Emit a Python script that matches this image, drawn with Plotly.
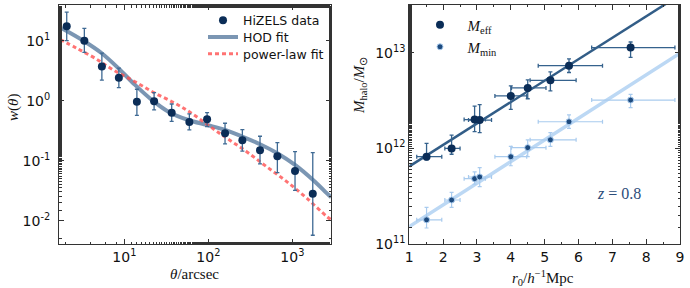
import plotly.graph_objects as go

# ---------------- Left panel data: w(theta) ----------------
theta = [2.06, 3.34, 5.4, 8.6, 14.1, 22.6, 36.6, 59.4, 96.6, 158, 254, 412, 663, 1076, 1750]
w_theta = [17.4, 10.0, 3.7, 2.4, 0.96, 0.98, 0.63, 0.44, 0.49, 0.286, 0.219, 0.149, 0.118, 0.067, 0.028]
w_hi = [30, 16, 6.2, 3.5, 1.55, 1.36, 0.88, 0.60, 0.63, 0.42, 0.33, 0.255, 0.20, 0.141, 0.136]
w_lo = [10, 6.4, 2.2, 1.65, 0.57, 0.70, 0.45, 0.325, 0.37, 0.19, 0.144, 0.088, 0.063, 0.032, 0.0057]

hod_theta = [1.80, 3.40, 5.38, 8.49, 13.4, 21.2, 33.4, 57.8, 95.7, 158, 254, 412, 662, 1076, 1750, 2692, 2900]
hod_w = [16.1, 9.6, 6.17, 3.47, 1.83, 1.03, 0.656, 0.476, 0.394, 0.325, 0.251, 0.188, 0.133, 0.0847, 0.0479, 0.0269, 0.0245]

pl_theta = [1.72, 2.71, 4.48, 7.39, 13.4, 23.2, 40.1, 61.7, 105, 166, 286, 495, 857, 1483, 2570, 2900]
pl_w = [10.5, 7.47, 5.09, 3.25, 2.07, 1.33, 0.905, 0.63, 0.369, 0.236, 0.141, 0.079, 0.0447, 0.0236, 0.0117, 0.0103]

left_xticks = [10, 100, 1000]
left_xticktext = ["10<sup>1</sup>", "10<sup>2</sup>", "10<sup>3</sup>"]
left_yticks = [0.01, 0.1, 1, 10]
left_yticktext = ["10<sup>-2</sup>", "10<sup>-1</sup>", "10<sup>0</sup>", "10<sup>1</sup>"]

# ---------------- Right panel data: halo mass vs r0 ----------------
r0 = [1.51, 2.25, 2.93, 3.08, 4.0, 4.5, 5.17, 5.72, 7.54]
r0_lo = [1.22, 2.05, 2.62, 2.75, 3.53, 4.02, 4.57, 4.81, 6.39]
r0_hi = [1.96, 2.50, 3.25, 3.43, 4.47, 5.04, 5.93, 6.71, 8.85]

m_eff = [8.2e11, 1.0e12, 2.0e12, 1.98e12, 3.53e12, 4.28e12, 5.14e12, 7.3e12, 1.13e13]
m_eff_lo = [7.6e11, 8.7e11, 1.5e12, 1.46e12, 2.56e12, 3.3e12, 3.98e12, 6.2e12, 8.9e12]
m_eff_hi = [1.13e12, 1.38e12, 2.77e12, 2.87e12, 4.5e12, 5.2e12, 6.3e12, 8.6e12, 1.29e13]

m_min = [1.8e11, 2.9e11, 4.84e11, 5.04e11, 8.2e11, 1.02e12, 1.23e12, 1.9e12, 3.2e12]
m_min_lo = [1.48e11, 2.43e11, 4.23e11, 4.0e11, 6.6e11, 8.2e11, 1.05e12, 1.62e12, 2.67e12]
m_min_hi = [2.43e11, 3.49e11, 5.7e11, 6.3e11, 1.05e12, 1.23e12, 1.46e12, 2.24e12, 3.67e12]

fit_r = [1, 9]
fit_eff = [6.5e11, 4.0e13]
fit_min = [1.53e11, 9.85e12]

right_xticks = [1, 2, 3, 4, 5, 6, 7, 8, 9]
right_yticks = [1e11, 1e12, 1e13]
right_yticktext = ["10<sup>11</sup>", "10<sup>12</sup>", "10<sup>13</sup>"]


def err(vals, lo, hi):
    return [h - v for v, h in zip(vals, hi)], [v - l for v, l in zip(vals, lo)]


fig = go.Figure()

NAVY = "#0b2d57"

# Left panel
fig.add_trace(go.Scatter(x=hod_theta, y=hod_w, mode="lines", name="HOD fit",
                         line=dict(color="rgba(100,132,166,0.85)", width=4, shape="spline"),
                         xaxis="x", yaxis="y", legend="legend3"))
fig.add_trace(go.Scatter(x=pl_theta, y=pl_w, mode="lines", name="power-law fit",
                         line=dict(color="rgba(255,80,80,0.8)", width=3, dash="4px,3px", shape="spline"),
                         xaxis="x", yaxis="y", legend="legend4"))
ep, em = err(w_theta, w_lo, w_hi)
fig.add_trace(go.Scatter(x=theta, y=w_theta, mode="markers", name="HiZELS data",
                         marker=dict(color=NAVY, size=8),
                         error_y=dict(type="data", symmetric=False, array=ep, arrayminus=em,
                                      color="#3f6a94", thickness=1.3, width=2),
                         xaxis="x", yaxis="y", legend="legend"))

# Right panel
fig.add_trace(go.Scatter(x=fit_r, y=fit_eff, mode="lines", showlegend=False,
                         line=dict(color="#325d87", width=2.5), xaxis="x2", yaxis="y2"))
fig.add_trace(go.Scatter(x=fit_r, y=fit_min, mode="lines", showlegend=False,
                         line=dict(color="#bcd8f4", width=3.5), xaxis="x2", yaxis="y2"))
ep, em = err(m_eff, m_eff_lo, m_eff_hi)
xp, xm = err(r0, r0_lo, r0_hi)
fig.add_trace(go.Scatter(x=r0, y=m_eff, mode="markers", name="&nbsp;&nbsp;<i>M</i><sub>eff</sub>",
                         marker=dict(color=NAVY, size=8),
                         error_y=dict(type="data", symmetric=False, array=ep, arrayminus=em,
                                      color="#35628d", thickness=1.3, width=2),
                         error_x=dict(type="data", symmetric=False, array=xp, arrayminus=xm,
                                      color="#35628d", thickness=1.3, width=2),
                         xaxis="x2", yaxis="y2", legend="legend2"))
ep, em = err(m_min, m_min_lo, m_min_hi)
fig.add_trace(go.Scatter(x=r0, y=m_min, mode="markers", name="&nbsp;&nbsp;<i>M</i><sub>min</sub>",
                         marker=dict(color="#1d4a7e", size=6, line=dict(color="#a9cbee", width=1)),
                         error_y=dict(type="data", symmetric=False, array=ep, arrayminus=em,
                                      color="#a9cbee", thickness=1.2, width=2),
                         error_x=dict(type="data", symmetric=False, array=xp, arrayminus=xm,
                                      color="#a9cbee", thickness=1.2, width=2),
                         xaxis="x2", yaxis="y2", legend="legend5"))

axis_common = dict(showline=True, linecolor="#333333", linewidth=1, mirror="ticks",
                   ticks="inside", ticklen=5, tickcolor="#333333", showgrid=False, zeroline=False,
                   automargin=False,
                   tickfont=dict(family="DejaVu Sans", size=14, color="#111111"))
minor_log = dict(ticks="inside", ticklen=2.5, tickcolor="#333333", showgrid=False)

title_font = dict(family="Liberation Serif", size=15, color="#111111")
leg_left_font = dict(family="DejaVu Sans", size=12.5, color="#111111")
leg_right_font = dict(family="Liberation Serif", size=15, color="#111111")


def leg(xpx, ypx, font):
    return dict(x=xpx / 690, y=1 - ypx / 288, xanchor="left", yanchor="middle",
                bgcolor="rgba(0,0,0,0)", font=font)


fig.update_layout(
    width=690, height=288, margin=dict(l=0, r=0, t=0, b=0, autoexpand=False),
    paper_bgcolor="white", plot_bgcolor="white", showlegend=True,
    xaxis=dict(axis_common, type="log", domain=[59 / 690, 331 / 690], range=[0.222, 3.46],
               tickvals=left_xticks, ticktext=left_xticktext, minor=minor_log, anchor="y"),
    yaxis=dict(axis_common, type="log", domain=[1 - 244 / 288, 1 - 5 / 288], range=[-2.39, 1.595],
               tickvals=left_yticks, ticktext=left_yticktext, minor=minor_log, anchor="x",
               ticklabelstandoff=5),
    xaxis2=dict(axis_common, type="linear", domain=[409.3 / 690, 680 / 690], range=[1, 9],
                tickvals=right_xticks, minor=dict(ticks="inside", ticklen=2.5, dtick=0.5, tickcolor="#333333"),
                anchor="y2"),
    yaxis2=dict(axis_common, type="log", domain=[1 - 244.3 / 288, 1 - 4.7 / 288], range=[11, 13.5],
                tickvals=right_yticks, ticktext=right_yticktext, minor=minor_log, anchor="x2"),
    legend=leg(203, 20.7, leg_left_font),
    legend3=leg(203, 37.3, leg_left_font),
    legend4=leg(203, 54, leg_left_font),
    legend2=leg(420, 25, leg_right_font),
    legend5=leg(420, 47, leg_right_font),
    annotations=[
        dict(text="<i>θ</i>/arcsec", x=194 / 690, y=1 - 274 / 288, xref="paper", yref="paper",
             xanchor="center", yanchor="middle", showarrow=False, font=title_font),
        dict(text="<i>w</i>(<i>θ</i>)", x=13 / 690, y=1 - 108 / 288, xref="paper", yref="paper",
             xanchor="center", yanchor="middle", showarrow=False, textangle=-90, font=title_font),
        dict(text="<i>r</i><sub>0</sub>/<i>h</i><sup>−1</sup>Mpc", x=543 / 690, y=1 - 278 / 288,
             xref="paper", yref="paper", xanchor="center", yanchor="middle", showarrow=False,
             font=title_font),
        dict(text="<i>M</i><sub>halo</sub>/<i>M</i><sub>⊙</sub>", x=360 / 690, y=1 - 86 / 288,
             xref="paper", yref="paper", xanchor="center", yanchor="middle", showarrow=False,
             textangle=-90, font=title_font),
        dict(text="<i>z</i> = 0.8", x=7.21, y=11.535, xref="x2", yref="y2", showarrow=False,
             xanchor="center", yanchor="middle",
             font=dict(family="Liberation Serif", size=16, color="#2c4d7a")),
    ],
)

fig.write_html("out.html", config={"displayModeBar": False},
               post_script="document.body.style.margin='0';document.body.style.padding='0';")
